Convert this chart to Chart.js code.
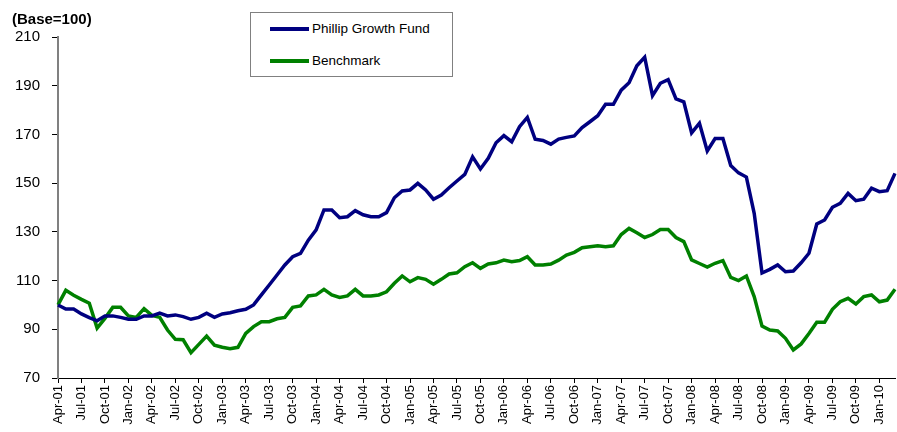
<!DOCTYPE html>
<html>
<head>
  <title>Phillip Growth Fund vs Benchmark</title>
  <script src="https://cdn.jsdelivr.net/npm/chart.js"></script>
  <style>
    body { margin: 0; background: #fff; font-family: "Liberation Sans", Arial, sans-serif; }
    #wrap { position: relative; width: 897px; height: 432px; }
    #base { position: absolute; left: 12px; top: 10px; font-weight: bold; font-size: 15px; }
    #legend { position: absolute; left: 250px; top: 12px; width: 201px; height: 63px; border: 1px solid #808080; background: #fff; }
    .item { position: absolute; left: 19px; font-size: 13.5px; line-height: 16px; white-space: nowrap; }
    .item .line { display: inline-block; width: 39px; height: 4px; vertical-align: middle; margin-right: 3px; }
  </style>
</head>
<body>
<div id="wrap">
  <canvas id="myChart" width="897" height="432"></canvas>
  <div id="base">(Base=100)</div>
  <div id="legend">
    <div class="item" style="top:8px"><span class="line" style="background:#000080"></span>Phillip Growth Fund</div>
    <div class="item" style="top:40px"><span class="line" style="background:#008000"></span>Benchmark</div>
  </div>
</div>
<script>
// monthly, Apr-01 .. Mar-10
const months = [
  'Apr-01','May-01','Jun-01','Jul-01','Aug-01','Sep-01','Oct-01','Nov-01','Dec-01',
  'Jan-02','Feb-02','Mar-02','Apr-02','May-02','Jun-02','Jul-02','Aug-02','Sep-02','Oct-02','Nov-02','Dec-02',
  'Jan-03','Feb-03','Mar-03','Apr-03','May-03','Jun-03','Jul-03','Aug-03','Sep-03','Oct-03','Nov-03','Dec-03',
  'Jan-04','Feb-04','Mar-04','Apr-04','May-04','Jun-04','Jul-04','Aug-04','Sep-04','Oct-04','Nov-04','Dec-04',
  'Jan-05','Feb-05','Mar-05','Apr-05','May-05','Jun-05','Jul-05','Aug-05','Sep-05','Oct-05','Nov-05','Dec-05',
  'Jan-06','Feb-06','Mar-06','Apr-06','May-06','Jun-06','Jul-06','Aug-06','Sep-06','Oct-06','Nov-06','Dec-06',
  'Jan-07','Feb-07','Mar-07','Apr-07','May-07','Jun-07','Jul-07','Aug-07','Sep-07','Oct-07','Nov-07','Dec-07',
  'Jan-08','Feb-08','Mar-08','Apr-08','May-08','Jun-08','Jul-08','Aug-08','Sep-08','Oct-08','Nov-08','Dec-08',
  'Jan-09','Feb-09','Mar-09','Apr-09','May-09','Jun-09','Jul-09','Aug-09','Sep-09','Oct-09','Nov-09','Dec-09',
  'Jan-10','Feb-10','Mar-10'
];

const fund = [
  100, 98.3, 98.3, 96.3, 94.8, 93.5, 95.5, 95.5, 94.9,
  94.1, 94.1, 95.5, 95.5, 96.6, 95.5, 95.9, 95.2, 94.1, 94.9, 96.6, 94.9,
  96.3, 96.8, 97.6, 98.2, 100, 104.1, 108.2, 112.3, 116.4, 119.8, 121.2, 126.6,
  130.8, 139, 139, 135.8, 136.2, 138.7, 137, 136.2, 136.2, 137.9, 144, 146.8,
  147.2, 149.9, 147.2, 143.4, 145.1, 148.1, 150.9, 153.6, 160.8, 155.8, 160.2, 166.6,
  169.5, 167, 173.2, 177, 168, 167.5, 166, 168.1, 168.8, 169.4, 172.8, 175.2,
  177.7, 182.4, 182.4, 188.2, 191.2, 198.2, 201.7, 185.9, 191, 192.5, 184.6, 183.4,
  170.6, 174.6, 163.2, 168.3, 168.3, 157.2, 154.2, 152.5, 137.6, 113.1, 114.6, 116.4,
  113.6, 113.9, 117.3, 121.2, 133.2, 134.9, 140.1, 141.7, 145.8, 142.8, 143.4, 147.9,
  146.5, 146.9, 154
];

const benchmark = [
  100, 106, 104, 102.3, 100.7, 90.5, 94.5, 99, 99,
  95.5, 94.9, 98.5, 95.7, 94.9, 89.7, 85.9, 85.7, 80.4, 83.8, 87.2, 83.5,
  82.6, 82, 82.6, 88.3, 91.1, 93.1, 93.1, 94.3, 94.9, 99, 99.6, 103.7,
  104.1, 106.4, 104.1, 103.1, 103.7, 106.4, 103.7, 103.7, 104.1, 105.4, 108.9, 111.9,
  109.5, 111.2, 110.5, 108.5, 110.5, 112.7, 113.2, 115.7, 117.3, 115, 116.8, 117.3,
  118.4, 117.7, 118.2, 119.8, 116.4, 116.4, 116.8, 118.4, 120.5, 121.6, 123.5, 123.9,
  124.3, 123.9, 124.3, 128.9, 131.4, 129.6, 127.7, 128.9, 131, 131, 127.7, 126,
  118.5, 117, 115.5, 117.1, 118.2, 111.3, 110, 111.9, 103.4, 91.3, 89.7, 89.3,
  86.3, 81.5, 84, 88.3, 92.9, 92.9, 98.2, 101.3, 102.7, 100.4, 103.4, 104.1,
  101.3, 102, 106.4
];

const yTicks = { min: 70, max: 210, step: 20 };

const ctx = document.getElementById('myChart').getContext('2d');
new Chart(ctx, {
  type: 'line',
  data: {
    labels: months,
    datasets: [{
      label: 'Phillip Growth Fund',
      data: fund,
      borderColor: '#000080',
      borderWidth: 3.5,
      pointRadius: 0,
      tension: 0
    }, {
      label: 'Benchmark',
      data: benchmark,
      borderColor: '#008000',
      borderWidth: 3.5,
      pointRadius: 0,
      tension: 0
    }]
  },
  options: {
    responsive: false,
    animation: false,
    layout: { padding: { top: 37, right: 2, left: 0, bottom: 0 } },
    plugins: { legend: { display: false }, tooltip: { enabled: false } },
    scales: {
      x: {
        grid: {
          drawOnChartArea: false,
          tickLength: 5,
          color: c => c.index % 3 === 0 ? '#000' : 'rgba(0,0,0,0)'
        },
        border: { color: '#000', width: 1 },
        ticks: {
          autoSkip: false,
          maxRotation: 90,
          minRotation: 90,
          padding: 2,
          color: '#000',
          font: { family: 'Liberation Sans', size: 13 },
          callback: (v, i) => i % 3 === 0 ? months[i] : ''
        },
        afterFit: s => { s.height = 54; s.paddingLeft = 0; s.paddingRight = 0; }
      },
      y: {
        min: yTicks.min,
        max: yTicks.max,
        ticks: {
          stepSize: yTicks.step,
          padding: 12,
          color: '#000',
          font: { family: 'Liberation Sans', size: 15 }
        },
        grid: { drawOnChartArea: false, tickLength: 6, color: '#000' },
        border: { color: '#808080', width: 2 },
        afterFit: s => { s.width = 58; }
      }
    }
  }
});
</script>
</body>
</html>
